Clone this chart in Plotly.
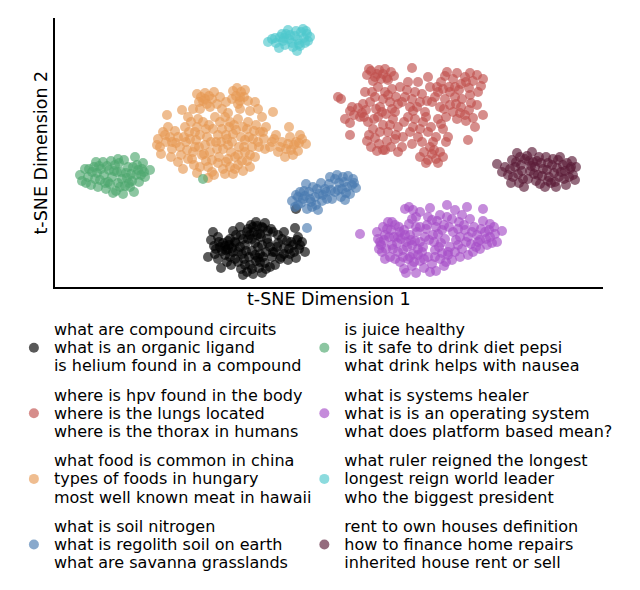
import plotly.graph_objects as go

# t-SNE coordinates (arbitrary units), per query cluster
orange_x = [197,201,205,209,203,212,199,207,214,233,237,241,244,236,240,232,245,238,
            255,273,289,167,182,188,193,222,226,217,228,250,258,248,262,220,
            158,160,163,166,170,172,175,161,168,176,157,171,178,
            185,190,195,199,203,207,210,213,216,220,223,226,229,232,235,238,241,244,247,250,253,256,259,
            187,192,198,205,212,218,225,231,236,242,248,255,260,264,266,196,209,221,234,245,189,202,228,252,265,
            270,274,278,282,286,290,294,298,302,306,285,293,300,276,288,296,
            178,183,188,194,200,206,212,218,223,228,233,238,243,247,250,214,225,181,235,208,197,
            180,186,193,200,206,211,217,222,227,233,239,243,249,254,258,263,191,197,215,230,
            240,210,200,245,238,219,226,204,195,184,172,165,240,205,280,291,299,272,230,208]
orange_y = [193,190,194,191,186,188,185,183,195,196,199,195,190,191,186,188,197,183,
            185,175,160,172,177,170,178,178,185,183,174,176,178,186,170,190,
            148,140,155,145,150,138,156,133,160,144,142,130,150,
            160,148,155,140,165,150,135,158,145,165,138,152,160,145,130,168,150,140,158,132,148,162,140,
            137,128,168,142,127,152,170,135,157,126,165,130,155,148,160,147,162,145,162,147,155,132,142,140,138,
            140,148,135,145,138,150,142,136,148,143,130,132,152,152,143,145,
            125,118,128,122,120,126,115,124,118,128,113,122,116,126,120,112,113,132,118,109,114,
            140,145,135,152,158,145,138,158,148,153,140,160,150,156,145,155,165,160,170,165,
            178,180,178,135,132,130,125,133,140,150,145,152,190,188,140,137,144,145,120,120]

red_x = [367,371,375,379,383,387,391,373,381,369,385,394,412,
         441,445,449,453,457,461,465,469,473,477,481,483,447,459,470,443,
         338,341,350,354,358,362,366,352,360,
         453,457,461,465,469,473,477,456,466,471,460,
         420,424,428,432,436,440,443,426,434,438,
         483,475,468,350,350,345,
         367,371,375,379,383,387,391,395,385,398,377,369,
         365,370,375,380,385,390,395,400,405,410,415,420,425,430,435,440,445,450,
         368,373,378,383,388,393,398,403,408,413,418,423,428,433,438,443,448,402,412,422,
         392,418,428,408,437,363,398,446,413,427,386,
         372,378,383,388,396,402,407,412,417,422,432,438,444,450,455,462,470,478,376,382,
         392,404,410,415,420,426,431,436,441,446,380,390,396,374,364,430,388,377,455,466]
red_y = [212,216,210,217,213,209,215,206,208,218,218,211,219,
         205,211,200,208,214,203,210,199,206,212,201,208,215,197,214,198,
         190,188,176,172,179,174,177,180,170,
         175,168,180,172,177,169,182,183,166,184,174,
         130,135,127,133,128,135,130,124,137,124,
         172,160,147,164,152,168,
         146,140,149,143,137,146,140,148,137,135,136,152,
         195,185,190,180,195,185,175,200,190,180,195,185,175,200,190,180,188,195,
         165,158,170,162,155,168,160,150,170,160,150,165,155,145,168,158,150,140,143,145,
         198,205,210,205,200,183,183,170,176,186,173,
         195,200,188,192,190,185,197,188,180,193,185,195,178,182,190,188,192,195,178,175,
         178,165,155,168,158,170,160,150,163,145,155,162,152,168,170,140,207,213,200,205]

black_x = [220,223,226,229,232,235,222,228,233,225,
           248,251,254,257,260,263,265,250,256,261,253,268,271,273,
           238,241,244,247,250,253,256,259,262,265,243,249,258,
           275,278,281,284,287,290,293,296,299,302,305,280,288,297,
           221,208,211,295,298,296,
           215,218,230,236,240,243,246,240,233,213,218,270,267,272,266,262,255,252,245,278,284,231,227,214,270,275,260,248,
           225,230,236,242,247,252,258,263,268,273,277,282,289,294,300,245,252,255,260,266,
           219,216,238,262,257,284,291,235,241,228]
black_y = [40,44,37,42,39,45,36,46,35,41,
           58,62,55,61,53,59,64,52,65,50,60,56,58,55,
           25,18,28,15,22,13,26,19,14,24,12,30,29,
           35,44,30,39,46,33,42,29,38,45,35,28,27,47,
           19,30,47,59,50,78,
           33,28,30,52,40,48,36,60,56,55,50,40,48,30,35,42,44,36,42,52,55,22,25,41,20,22,33,48,
           32,48,44,33,55,48,40,30,44,35,40,48,38,35,42,22,18,32,25,18,
           45,38,35,60,52,33,45,28,52,38]

blue_x = [292,295,298,301,304,307,310,313,316,319,322,325,300,306,312,318,296,309,315,321,303,
          326,329,332,335,338,341,344,347,350,353,356,330,337,345,352,335,342,327,348,307,
          298,305,311,317,323,331,339,346,354,343]
blue_y = [86,80,90,84,96,78,88,100,82,93,86,98,95,103,80,77,92,95,90,104,88,
          95,103,88,108,97,90,105,100,93,108,99,110,112,87,102,95,98,88,111,59,
          82,91,85,98,92,97,104,94,104,110]

purple_x = [360,405,409,413,447,467,483,430,455,420,
            377,380,383,386,389,392,395,398,401,404,407,410,413,416,379,385,391,397,403,409,415,382,388,394,400,406,412,378,
            423,426,429,432,435,438,441,444,447,450,453,456,459,462,465,468,471,474,477,480,483,486,489,492,495,497,502,
            428,440,452,462,425,436,448,458,470,478,490,420,445,
            400,404,408,412,416,420,424,428,432,436,440,444,448,406,418,430,442,395,452,460,468,
            385,390,420,418,434,466,473,481,
            381,387,393,399,405,411,417,422,427,433,439,442,449,455,460,464,472,476,485,490,
            494,410,414,424,435,446,403,398,384,392,437,458,487,480,416,412]
purple_y = [53,78,80,77,82,80,78,79,77,75,
            55,45,60,38,50,42,62,35,48,57,40,52,33,60,38,52,57,44,37,63,46,35,65,50,55,45,42,48,
            40,58,47,67,37,53,44,62,70,40,55,47,65,38,57,50,43,60,52,38,66,48,57,44,53,45,56,
            70,72,68,72,50,60,35,42,68,45,63,60,48,
            25,18,28,21,14,26,19,30,23,16,28,21,32,14,32,15,34,28,27,30,32,
            28,30,45,38,45,45,35,58,
            42,58,38,60,52,47,55,35,62,52,40,57,60,35,50,62,55,40,55,50,
            60,30,25,28,30,25,30,50,47,65,66,58,42,47,70,68]

green_x = [80,82,85,88,91,94,97,100,103,106,109,112,115,118,121,124,127,130,133,136,139,142,145,150,135,
           98,104,110,116,122,128,119,113,125,131,137,141,107,95,89,101,123,117,111,129,134,143,108,203,
           86,92,99,105,114,120,126,132,138,144,96,118]
green_y = [112,106,118,110,102,120,114,107,125,98,117,110,122,104,115,127,109,100,120,112,105,118,110,117,130,
           100,112,103,96,108,120,124,94,101,113,122,112,121,108,118,118,93,115,126,104,95,124,105,108,
           104,115,121,104,116,100,114,106,117,115,125,128]

cyan_x = [268,272,276,280,283,286,289,292,295,298,301,304,307,310,297,293,300,285,305,279,288,303,296,308,284,
          282,290,299,306,275]
cyan_y = [245,248,244,250,246,253,248,244,251,247,255,249,253,250,236,240,241,242,244,239,257,258,256,246,249,
          253,252,243,256,249]

maroon_x = [497,502,517,532,505,510,513,516,519,522,525,528,531,534,537,540,543,546,549,552,555,558,561,564,567,570,573,576,
            512,521,527,536,542,548,554,560,566,572,518,530,545,557,563,539,551,524,575,511,533,547,569,
            508,515,523,529,535,541,548,553,559,565,571,520,538,556]
maroon_y = [123,115,134,135,120,118,110,125,104,116,128,108,121,113,126,103,118,130,110,122,105,127,115,108,124,118,112,120,
            127,122,131,106,111,124,114,130,102,126,113,116,100,119,122,130,104,100,107,104,125,117,110,
            112,120,108,126,120,124,106,128,110,116,120,130,112,100]

labels = {
    "black": ["what are compound circuits", "what is an organic ligand", "is helium found in a compound"],
    "green": ["is juice healthy", "is it safe to drink diet pepsi", "what drink helps with nausea"],
    "red": ["where is hpv found in the body", "where is the lungs located", "where is the thorax in humans"],
    "purple": ["what is systems healer", "what is is an operating system", "what does platform based mean?"],
    "orange": ["what food is common in china", "types of foods in hungary", "most well known meat in hawaii"],
    "cyan": ["what ruler reigned the longest", "longest reign world leader", "who the biggest president"],
    "blue": ["what is soil nitrogen", "what is regolith soil on earth", "what are savanna grasslands"],
    "maroon": ["rent to own houses definition", "how to finance home repairs", "inherited house rent or sell"],
}

x_title = "t-SNE Dimension 1"
y_title = "t-SNE Dimension 2"

colors = {
    "black": "#000000", "green": "#4fa86e", "red": "#c0504d", "purple": "#a64fc8",
    "orange": "#e69a55", "cyan": "#4ec8cc", "blue": "#4a7bb0", "maroon": "#5a1c38",
}

data = {
    "black": (black_x, black_y), "green": (green_x, green_y), "red": (red_x, red_y),
    "purple": (purple_x, purple_y), "orange": (orange_x, orange_y), "cyan": (cyan_x, cyan_y),
    "blue": (blue_x, blue_y), "maroon": (maroon_x, maroon_y),
}

draw_order = ["black", "red", "orange", "blue", "green", "purple", "cyan", "maroon"]
column1 = ["black", "red", "orange", "blue"]
column2 = ["green", "purple", "cyan", "maroon"]


def legend_name(lines):
    # glyphs at 16px while line spacing follows the 14px legend font (tighter, like the reference)
    return "<br>".join(f"<span style='font-size:16px'>{t}</span>" for t in lines)


fig = go.Figure()
for key in draw_order:
    xs, ys = data[key]
    in_col1 = key in column1
    rank = (column1.index(key) if in_col1 else column2.index(key)) + 1
    fig.add_trace(go.Scatter(
        x=xs, y=ys, mode="markers", name=legend_name(labels[key]),
        legend="legend" if in_col1 else "legend2",
        legendgroup=key, legendrank=rank,
        marker=dict(size=10, color=colors[key], opacity=0.65, line=dict(width=0)),
    ))

font_family = "DejaVu Sans"
legend_common = dict(
    orientation="v", yanchor="top", xanchor="left",
    font=dict(family=font_family, size=14, color="black"),
    bgcolor="rgba(0,0,0,0)", traceorder="grouped", tracegroupgap=8,
    itemclick=False, itemdoubleclick=False,
)
axis_common = dict(
    showgrid=False, zeroline=False, showticklabels=False, ticks="",
    showline=True, linecolor="black", linewidth=2, automargin=False,
)
fig.update_layout(
    width=640, height=590,
    # page body has an 8px default margin; offsets compensate for it
    margin=dict(l=47, r=45, t=10, b=311, autoexpand=False),
    plot_bgcolor="white", paper_bgcolor="white",
    font=dict(family=font_family, size=16, color="black"),
    showlegend=True,
    legend=dict(x=-0.075, y=-0.1, **legend_common),
    legend2=dict(x=0.455, y=-0.1, **legend_common),
    xaxis=dict(range=[55, 603], **axis_common),
    yaxis=dict(range=[0, 269], **axis_common),
    annotations=[
        dict(text=x_title, xref="paper", yref="paper", x=0.5, y=0, yshift=-12,
             xanchor="center", yanchor="middle", showarrow=False,
             font=dict(family=font_family, size=17.5, color="black")),
        dict(text=y_title, xref="paper", yref="paper", x=0, y=0.5, xshift=-15,
             xanchor="center", yanchor="middle", textangle=-90, showarrow=False,
             font=dict(family=font_family, size=17.5, color="black")),
    ],
)

fig.write_html("out.html")
